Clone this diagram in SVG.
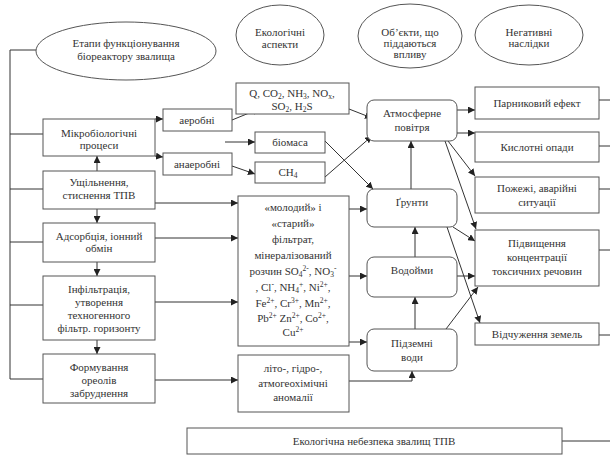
<svg xmlns="http://www.w3.org/2000/svg" width="610" height="455" viewBox="0 0 610 455" font-family="Liberation Serif, Times New Roman, serif">
<defs>
<marker id="ah" viewBox="0 0 10 10" refX="10" refY="5" markerWidth="7" markerHeight="7" markerUnits="userSpaceOnUse" orient="auto">
<path d="M0,0 L10,5 L0,10 z" fill="#222"/>
</marker>
<style>
text{font-size:11px;fill:#333;text-anchor:middle}
.box{fill:#fff;stroke:#555;stroke-width:1}
.ell{fill:#fff;stroke:#555;stroke-width:1}
.ln{fill:none;stroke:#333;stroke-width:1}
.ar{fill:none;stroke:#333;stroke-width:1;marker-end:url(#ah)}
.s{font-size:7.5px}
</style>
</defs>
<rect width="610" height="455" fill="#fff"/>

<g id="connectors">
<path class="ln" d="M36,50 H10 V379"/>
<path class="ln" d="M10,134 H43 M10,189 H43 M10,242 H43 M10,305 H43 M10,379 H43"/>
<line class="ar" x1="97" y1="171" x2="97" y2="156"/>
<line class="ar" x1="97" y1="209" x2="97" y2="223"/>
<line class="ar" x1="97" y1="262" x2="97" y2="276"/>
<line class="ar" x1="97" y1="340" x2="97" y2="354"/>
<line class="ar" x1="155" y1="119" x2="163" y2="119"/>
<line class="ar" x1="155" y1="156" x2="163" y2="157"/>
<line class="ar" x1="232" y1="120" x2="259" y2="109"/>
<line class="ar" x1="225" y1="142" x2="255" y2="142"/>
<line class="ar" x1="232" y1="166" x2="255" y2="174"/>
<line class="ar" x1="155" y1="203" x2="238" y2="203"/>
<line class="ar" x1="155" y1="238" x2="238" y2="238"/>
<line class="ar" x1="155" y1="302" x2="238" y2="302"/>
<line class="ar" x1="155" y1="380" x2="238" y2="380"/>
<line class="ar" x1="349" y1="109" x2="372" y2="118"/>
<line class="ar" x1="325" y1="141" x2="373" y2="189"/>
<line class="ar" x1="325" y1="177" x2="372" y2="136"/>
<line class="ar" x1="349" y1="209" x2="367" y2="209"/>
<line class="ar" x1="349" y1="276" x2="367" y2="276"/>
<line class="ar" x1="349" y1="342" x2="367" y2="342"/>
<path class="ar" d="M349,381 H412 V371"/>
<line class="ar" x1="411" y1="189" x2="411" y2="141"/>
<line class="ar" x1="415" y1="257" x2="415" y2="227"/>
<line class="ar" x1="415" y1="329" x2="415" y2="297"/>
<line class="ar" x1="457" y1="110" x2="475" y2="110"/>
<line class="ar" x1="457" y1="133" x2="475" y2="133"/>
<line class="ar" x1="448" y1="141" x2="475" y2="176"/>
<line class="ar" x1="445" y1="141" x2="476" y2="229"/>
<line class="ar" x1="453" y1="227" x2="475" y2="241"/>
<line class="ar" x1="447" y1="227" x2="480" y2="323"/>
<line class="ar" x1="457" y1="276" x2="475" y2="276"/>
<line class="ar" x1="446" y1="329" x2="478" y2="287"/>
<path class="ln" d="M599,100 H610 M599,146 H610 M599,189 H610 M599,250 H610 M599,335 H610 M562,441 H610"/>
</g>

<g id="e-stages"><ellipse class="ell" cx="126" cy="51" rx="90" ry="29"/>
<text x="126" y="47" font-size="12">Етапи функціонування</text><text x="126" y="60" font-size="12">біореактору звалища</text></g>
<g id="e-aspects"><ellipse class="ell" cx="280" cy="35" rx="44" ry="30"/>
<text x="280" y="36">Екологічні</text><text x="280" y="48">аспекти</text></g>
<g id="e-objects"><ellipse class="ell" cx="410" cy="36" rx="52" ry="32"/>
<text x="410" y="36">Об’єкти, що</text><text x="410" y="47">піддаються</text><text x="410" y="58">впливу</text></g>
<g id="e-negative"><ellipse class="ell" cx="529" cy="35" rx="54" ry="30"/>
<text x="529" y="36">Негативні</text><text x="529" y="47">наслідки</text></g>

<g id="n-micro"><rect class="box" x="43" y="119" width="112" height="37"/>
<text x="99" y="137">Мікробіологічні</text><text x="99" y="149">процеси</text></g>
<g id="n-compact"><rect class="box" x="43" y="171" width="112" height="38"/>
<text x="99" y="186">Ущільнення,</text><text x="99" y="199">стиснення ТПВ</text></g>
<g id="n-adsorb"><rect class="box" x="43" y="223" width="112" height="39"/>
<text x="99" y="240">Адсорбція, іонний</text><text x="99" y="252">обмін</text></g>
<g id="n-infil"><rect class="box" x="43" y="276" width="112" height="64"/>
<text x="99" y="293">Інфільтрація,</text><text x="99" y="306">утворення</text><text x="99" y="319">техногенного</text><text x="99" y="332">фільтр. горизонту</text></g>
<g id="n-form"><rect class="box" x="43" y="354" width="112" height="49"/>
<text x="99" y="371">Формування</text><text x="99" y="384">ореолів</text><text x="99" y="397">забруднення</text></g>

<g id="n-aerobic"><rect class="box" x="163" y="109" width="69" height="22"/><text x="197" y="124">аеробні</text></g>
<g id="n-anaerobic"><rect class="box" x="163" y="153" width="69" height="22"/><text x="197" y="168">анаеробні</text></g>
<g id="n-gases"><rect class="box" x="236" y="83" width="113" height="31"/>
<text x="292" y="97">Q, CO<tspan class="s" dy="1.5">2</tspan><tspan dy="-1.5">, NH</tspan><tspan class="s" dy="1.5">3</tspan><tspan dy="-1.5">, NO</tspan><tspan class="s" dy="1.5">x</tspan><tspan dy="-1.5">,</tspan></text>
<text x="292" y="110">SO<tspan class="s" dy="1.5">2</tspan><tspan dy="-1.5">, H</tspan><tspan class="s" dy="1.5">2</tspan><tspan dy="-1.5">S</tspan></text></g>
<g id="n-biomass"><rect class="box" x="255" y="132" width="70" height="21"/><text x="290" y="146">біомаса</text></g>
<g id="n-ch4"><rect class="box" x="255" y="162" width="70" height="21"/><text x="288" y="176">CH<tspan class="s" dy="2">4</tspan></text></g>
<g id="n-leachate"><rect class="box" x="238" y="196" width="111" height="150"/>
<text x="293" y="211">«молодий» і</text>
<text x="293" y="227">«старий»</text>
<text x="293" y="243">фільтрат,</text>
<text x="293" y="259">мінералізований</text>
<text x="293" y="275">розчин SO<tspan class="s" dy="2">4</tspan><tspan class="s" dy="-6">2-</tspan><tspan dy="4">, NO</tspan><tspan class="s" dy="2">3</tspan><tspan class="s" dy="-6">-</tspan></text>
<text x="293" y="291"><tspan>, Cl</tspan><tspan class="s" dy="-4">-</tspan><tspan dy="4">, NH</tspan><tspan class="s" dy="2">4</tspan><tspan class="s" dy="-6">+</tspan><tspan dy="4">, Ni</tspan><tspan class="s" dy="-4">2+</tspan><tspan dy="4">,</tspan></text>
<text x="293" y="307"><tspan>Fe</tspan><tspan class="s" dy="-4">2+</tspan><tspan dy="4">, Cr</tspan><tspan class="s" dy="-4">3+</tspan><tspan dy="4">, Mn</tspan><tspan class="s" dy="-4">2+</tspan><tspan dy="4">,</tspan></text>
<text x="293" y="322"><tspan>Pb</tspan><tspan class="s" dy="-4">2+</tspan><tspan dy="4"> Zn</tspan><tspan class="s" dy="-4">2+</tspan><tspan dy="4">, Co</tspan><tspan class="s" dy="-4">2+</tspan><tspan dy="4">,</tspan></text>
<text x="293" y="336"><tspan>Cu</tspan><tspan class="s" dy="-4">2+</tspan></text></g>
<g id="n-anomalies"><rect class="box" x="238" y="355" width="111" height="57"/>
<text x="293" y="372">літо-, гідро-,</text><text x="293" y="387">атмогеохімічні</text><text x="293" y="401">аномалії</text></g>

<g id="n-air"><rect class="box" x="367" y="100" width="90" height="41" rx="7"/>
<text x="412" y="117">Атмосферне</text><text x="412" y="131">повітря</text></g>
<g id="n-soil"><rect class="box" x="367" y="189" width="90" height="38" rx="7"/><text x="412" y="206">Ґрунти</text></g>
<g id="n-water"><rect class="box" x="367" y="257" width="90" height="40" rx="7"/><text x="412" y="274">Водойми</text></g>
<g id="n-ground"><rect class="box" x="367" y="329" width="90" height="42" rx="7"/>
<text x="412" y="347">Підземні</text><text x="412" y="361">води</text></g>

<g id="n-greenhouse"><rect class="box" x="475" y="87" width="124" height="32"/><text x="537" y="107">Парниковий ефект</text></g>
<g id="n-acid"><rect class="box" x="475" y="132" width="124" height="30"/><text x="537" y="151">Кислотні опади</text></g>
<g id="n-fire"><rect class="box" x="475" y="177" width="124" height="36"/>
<text x="537" y="192">Пожежі, аварійні</text><text x="537" y="206">ситуації</text></g>
<g id="n-toxic"><rect class="box" x="475" y="230" width="124" height="56"/>
<text x="537" y="247">Підвищення</text><text x="537" y="261">концентрації</text><text x="537" y="275">токсичних речовин</text></g>
<g id="n-land"><rect class="box" x="475" y="323" width="124" height="22"/><text x="537" y="338">Відчуження земель</text></g>

<g id="n-danger"><rect class="box" x="187" y="428" width="375" height="26"/><text x="374" y="445">Екологічна небезпека звалищ ТПВ</text></g>
</svg>
